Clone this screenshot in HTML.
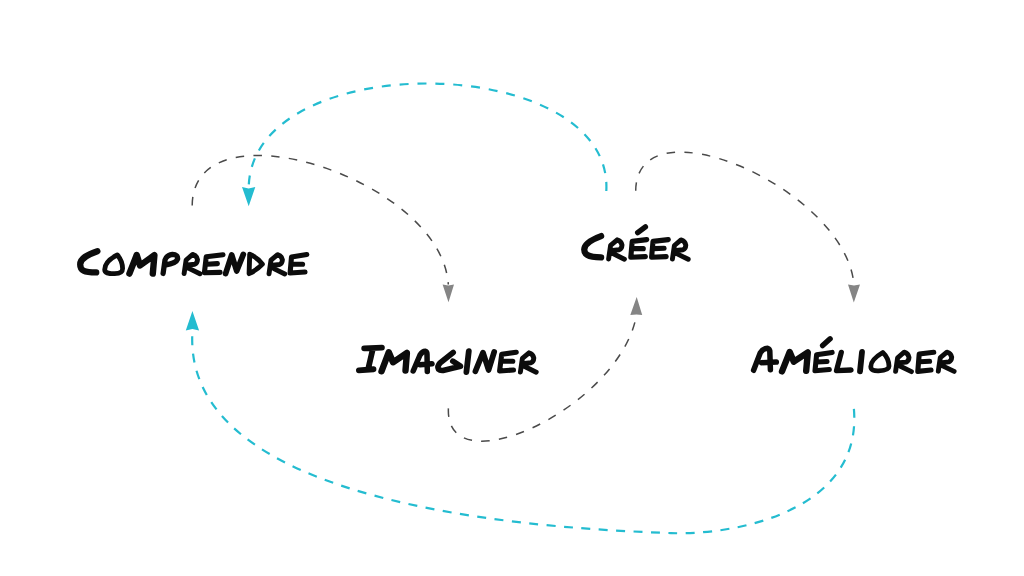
<!DOCTYPE html>
<html>
<head>
<meta charset="utf-8">
<style>
html,body{margin:0;padding:0;background:#fff;width:1024px;height:576px;overflow:hidden;font-family:"Liberation Sans",sans-serif;}
svg{display:block;position:absolute;left:0;top:0;}
.cy{fill:none;stroke:#24bcd0;stroke-width:2.2;stroke-dasharray:9 8.5;}
.gr{fill:none;stroke:#4a4a4a;stroke-width:1.5;stroke-dasharray:8.5 9.2;}
.t{fill:none;stroke:#0c0c0c;stroke-linecap:round;stroke-linejoin:round;}
</style>
</head>
<body>
<svg width="1024" height="576" viewBox="0 0 1024 576">
<path class="cy" style="stroke-dasharray:9 8.89" d="M606.3,191.0 C614.0,51.4 251.9,45.3 248.7,187.2"/>
<path class="cy" style="stroke-dasharray:9 8.45" d="M853.9,408.8 C862.6,511.1 735.5,535.4 670.9,533.1 C543.5,528.5 179.9,508.7 192.5,330.5"/>
<path class="gr" style="stroke-dasharray:8.5 9.3" d="M192.2,205.5 C192.7,100.1 441.6,178.0 448.3,284.5"/>
<path class="gr" style="stroke-dasharray:8.5 9.3" d="M448.4,408.4 C445.0,488.5 619.9,407.9 636.5,315.0"/>
<path class="gr" style="stroke-dasharray:8.5 9.3" d="M635.7,190.8 C636.4,98.6 845.4,187.9 854.0,284.7"/>
<path fill="#24bcd0" d="M242,187 L248.6,188.5 L255.3,187 L248.7,206.3 Z"/>
<path fill="#24bcd0" d="M185.8,330.5 L192.4,329 L199.1,330.5 L192.4,311 Z"/>
<path fill="#858585" d="M442.6,284.4 L448.4,285.6 L454,284.4 L448.5,302.3 Z"/>
<path fill="#858585" d="M630.3,315 L636.5,314.6 L642.2,315 L636.7,297 Z"/>
<path fill="#858585" d="M848,284.6 L854,285.4 L860,284.6 L853.8,302.5 Z"/>
<g class="t">
<path d="M97.4,251.2 C88,254.5 80.2,258 80.2,264.5 C80.2,270.5 84,272.4 96.2,272.4" stroke-width="6.3"/>
<path d="M117.3,254.9 C110,258.7 104.7,264 104.7,269.5 C104.7,273 108,273.7 114.6,273.7 C120.5,273.5 122.6,272 122.6,268.5 C122.5,263 120,258 117.3,254.9 Z" stroke-width="4.8"/>
<path d="M129.4,273.6 L136.7,255 L140,265.5 L154.4,255.2 L152.8,273.6" stroke-width="6.4"/>
<path d="M163.1,273.5 L165,260 Q166.5,255.2 172.5,254.4 Q178,254.5 177.6,259 Q176,263.5 165,265" stroke-width="5.3"/>
<path d="M184.1,273.6 L186.1,260.0 L192.7,254.4 Q196.7,255.4 197.5,259.6 Q197.3,263.3 194.7,264.3 L188.1,265.0 M188.9,268.4 L199.9,273.8" stroke-width="4.9"/>
<path d="M223,254.8 L206.25,256.8 L204.4,272.8 L220.1,272.4 M207,264.3 L217.4,263.6" stroke-width="5.1"/>
<path d="M225.6,273.6 L231.7,254.9 L236.7,271 L243.3,254.4" stroke-width="5.7"/>
<path d="M249.7,254.3 Q258,258 262.4,264.1 Q257,270 249.1,273.6 Z" stroke-width="4.9"/>
<path d="M269.0,273.8 L271.0,260.2 L277.6,254.6 Q281.6,255.6 282.4,259.8 Q282.2,263.5 279.6,264.5 L273.0,265.2 M273.8,268.6 L284.8,274.0" stroke-width="4.9"/>
<path d="M306.8,254.6 L291.5,257 L290.1,273 L305,272 M292.2,264.3 L302.6,264.3" stroke-width="5.1"/>
<path d="M601.1,236.1 C592,239.5 584.25,244 584.25,249.5 C584.25,254 587,257.2 601.1,257.4" stroke-width="6.3"/>
<path d="M608.6,259.0 L610.6,245.4 L617.2,239.8 Q621.2,240.8 622.0,245.0 Q621.8,248.7 619.2,249.7 L612.6,250.4 M613.4,253.8 L624.4,259.2" stroke-width="4.9"/>
<path d="M637.7,232.7 L645.4,226.8" stroke-width="5.4"/>
<path d="M646.75,239.6 L632.2,241.4 L630.8,257.3 L645.4,256.6 M632.9,248.65 L643.3,248.65" stroke-width="5.1"/>
<path d="M668.3,239.6 L653,241.4 L651.6,257.3 L666.2,256.6 M653.7,248.65 L664.1,248.3" stroke-width="5.1"/>
<path d="M672.4,259.1 L674.4,245.5 L681.0,239.9 Q685.0,240.9 685.8,245.1 Q685.6,248.8 683.0,249.8 L676.4,250.5 M677.2,253.9 L688.2,259.3" stroke-width="4.9"/>
<path d="M364.2,348.4 L381.9,347.7 M372.8,349.1 L368,369.6 M358.9,370.3 L373.5,369.25" stroke-width="5.8"/>
<path d="M381.5,371.3 L388.8,352.2 L393,362.3 L406.9,352.9 L405.5,370.6" stroke-width="6.4"/>
<path d="M413.2,371 L420,355 Q422.5,351.2 425,351.2 Q427,351.8 427,354 L427.3,371.5 M420,364.8 L432,363.7" stroke-width="5.5"/>
<path d="M453.2,352.5 L440,363 Q436.8,366.5 438.5,369.3 Q440,370.8 443,370.5 L460.5,366.2 L452.8,361.2" stroke-width="5.6"/>
<path d="M468.8,351.2 L466.4,372" stroke-width="5.8"/>
<path d="M475.4,371.3 L483,352.6 L488.6,370 L494.2,351.9" stroke-width="5.7"/>
<path d="M516.25,352.2 L501.7,354.3 L499.6,371 L513.5,370 M502.4,361.3 L512.8,361.3" stroke-width="5.1"/>
<path d="M520.4,372.0 L522.4,358.4 L529.0,352.8 Q533.0,353.8 533.8,358.0 Q533.6,361.7 531.0,362.7 L524.4,363.4 M525.2,366.8 L536.2,372.2" stroke-width="4.9"/>
<path d="M753.6,370.3 L760.4,352.6 Q763,348.5 767.5,348.3 Q769.5,349 769.8,351 L770.4,369.7 M761.6,362.7 L776.3,362.1" stroke-width="5.5"/>
<path d="M782,371.4 L789.7,352 L793.8,361.7 L807.8,352.4 L806.2,370.7" stroke-width="6.4"/>
<path d="M822.6,345.6 L830.1,338.8" stroke-width="5.4"/>
<path d="M832.1,352.4 L816.6,354.8 L815,370.7 L829.3,369.5 M817,362 L827,361.5" stroke-width="5.1"/>
<path d="M841.3,352.4 L836.5,370.7 L851,370" stroke-width="5.3"/>
<path d="M862,352 L860,371.4" stroke-width="5.8"/>
<path d="M882.8,352.5 C876,356.5 870.8,361.5 870.8,366.5 C870.8,370.3 874,370.9 878.5,370.8 C885,370.5 889,369.2 889,366.2 C888.8,360.5 886,355.5 882.8,352.5 Z" stroke-width="4.8"/>
<path d="M895.6,371.4 L897.6,357.8 L904.2,352.2 Q908.2,353.2 909.0,357.4 Q908.8,361.1 906.2,362.1 L899.6,362.8 M900.4,366.2 L911.4,371.6" stroke-width="4.9"/>
<path d="M933.75,352.3 L919.2,354 L917.8,371.4 L931,370 M919.9,361.7 L929.6,361.3" stroke-width="5.1"/>
<path d="M938.3,371.2 L940.3,357.6 L946.9,352.1 Q950.9,353.1 951.7,357.2 Q951.5,360.9 948.9,361.9 L942.3,362.6 M943.1,366.1 L954.1,371.4" stroke-width="4.9"/>
</g>
</svg>
</body>
</html>
